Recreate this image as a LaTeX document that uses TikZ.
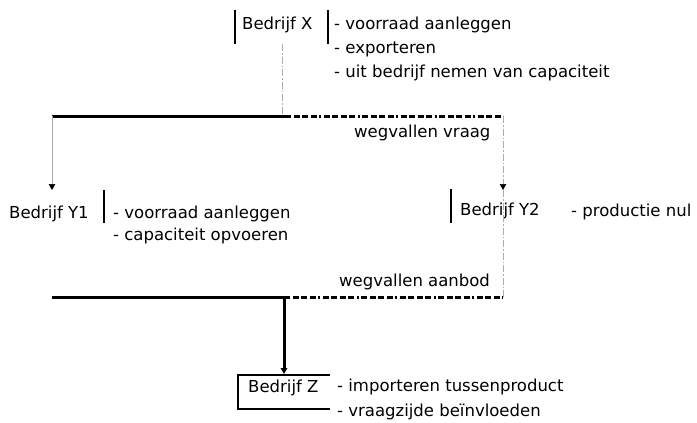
\documentclass[tikz,border=0pt]{standalone}
\usepackage{fontspec}
\setmainfont{DejaVu Sans}
\usetikzlibrary{arrows.meta}
\tikzset{
  txt/.style={inner sep=0pt, anchor=base west, font=\fontsize{16.5}{19}\selectfont},
  thickline/.style={line width=3pt, black},
  thickdash/.style={line width=3pt, black, dash pattern=on 6pt off 2.5pt on 6pt off 2.5pt on 6pt off 2.5pt on 6pt off 2.5pt on 2pt off 2.5pt},
  greyline/.style={line width=0.6pt, gray!65},
  greydash/.style={line width=0.6pt, gray!65, dash pattern=on 7pt off 2pt on 1.5pt off 2pt},
  bar/.style={line width=2.6pt, black},
  tip/.style={-{Triangle[length=6pt,width=6.5pt,color=black]}},
}
\begin{document}
\begin{tikzpicture}[x=1pt,y=-1pt]
\useasboundingbox (0,0) rectangle (697,423);
% Bedrijf X
\node[txt] (X) at (242,29) {Bedrijf X};
\draw[bar] (235,10) -- (235,44);
\draw[bar] (328,10) -- (328,44);
\node[txt] (xl1) at (334,29) {- voorraad aanleggen};
\node[txt] (xl2) at (334,53) {- exporteren};
\node[txt] (xl3) at (334,77) {- uit bedrijf nemen van capaciteit};
% top split
\coordinate (xd) at (282,44);
\coordinate (tl) at (52,116);
\coordinate (tm) at (285,116);
\coordinate (tx) at (282,116);
\coordinate (tr) at (503,116);
\draw[greydash] (xd) -- (tx);
\draw[thickline] (tl) -- (tm);
\draw[thickdash] (tm) -- (tr);
\node[txt] (wv) at (354,137) {wegvallen vraag};
% Y1
\node[txt] (Y1) at (9,218) {Bedrijf Y1};
\coordinate (y1a) at (52,190);
\draw[greyline, tip] (tl) -- (y1a);
\draw[bar] (104,190) -- (104,223);
\node[txt] (y1l1) at (113,218) {- voorraad aanleggen};
\node[txt] (y1l2) at (113,240) {- capaciteit opvoeren};
% Y2
\node[txt] (Y2) at (460,215) {Bedrijf Y2};
\draw[bar] (451,189) -- (451,223);
\node[txt] (y2l) at (571,216) {- productie nul};
\coordinate (y2a) at (503,190);
\draw[greydash, tip] (tr) -- (y2a);
\coordinate (br) at (503,297);
\draw[greydash] (y2a) -- (br);
% bottom join
\node[txt] (wa) at (339,286) {wegvallen aanbod};
\coordinate (bl) at (52,297);
\coordinate (bm) at (284,297);
\draw[thickline] (bl) -- (bm);
\draw[thickdash] (bm) -- (br);
% Bedrijf Z
\node[txt] (Z) at (248,392) {Bedrijf Z};
\draw[line width=2.6pt] (330,375) -- (238,375) -- (238,409) -- (330,409);
\coordinate (za) at (284,374);
\draw[thickline, tip] (bm) -- (za);
\node[txt] (zl1) at (337,391) {- importeren tussenproduct};
\node[txt] (zl2) at (337,416) {- vraagzijde beïnvloeden};
\end{tikzpicture}
\end{document}
